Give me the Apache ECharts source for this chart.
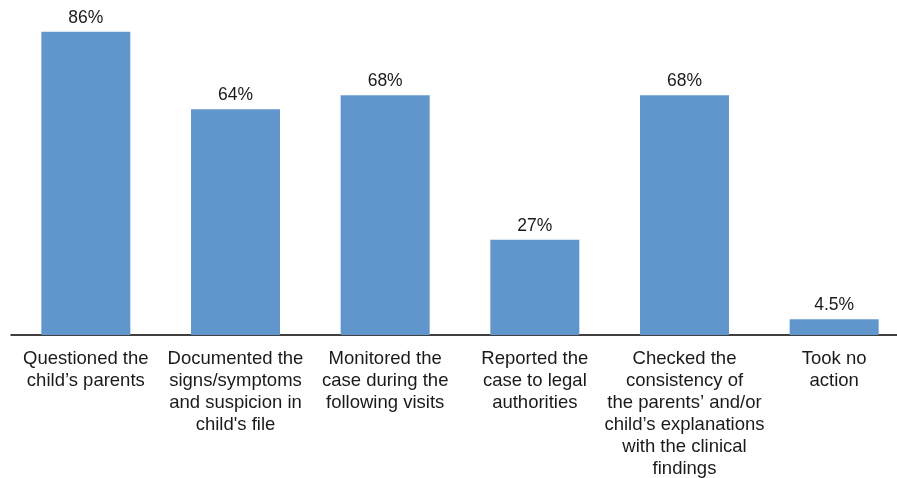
<!DOCTYPE html>
<html>
<head>
<meta charset="utf-8">
<script src="https://cdn.jsdelivr.net/npm/echarts@6/dist/echarts.min.js"></script>
<style>
html,body{margin:0;padding:0;background:#fff;overflow:hidden;}
#main{width:910px;height:478px;}
</style>
</head>
<body>
<div id="main"></div>
<script>
// categories (line breaks as in the original)
var categories = [
    "Questioned the\nchild\u2019s parents",
    "Documented the\nsigns/symptoms\nand suspicion in\nchild's file",
    "Monitored the\ncase during the\nfollowing visits",
    "Reported the\ncase to legal\nauthorities",
    "Checked the\nconsistency of\nthe parents\u2019 and/or\nchild\u2019s explanations\nwith the clinical\nfindings",
    "Took no\naction"
];
var values = [86, 64, 68, 27, 68, 4.5];

// chart div is a bit wider than the window, the axis runs off the right edge like in the original
var chart = echarts.init(document.getElementById("main"));
chart.setOption({
    animation: false,
    grid: {
        left: 11,
        right: 1,
        top: 0,
        bottom: 143,
        containLabel: false,
        outerBoundsMode: "none"
    },
    xAxis: {
        type: "category",
        data: categories,
        axisTick: {show: false},
        axisLine: {lineStyle: {color: "#000", width: 1.5}},
        axisLabel: {
            interval: 0,
            margin: 13,
            color: "#1a1a1a",
            fontFamily: "Liberation Sans",
            fontSize: 18.5,
            lineHeight: 22
        }
    },
    yAxis: {
        type: "value",
        min: 0,
        max: 95,
        show: false,
        splitLine: {show: false}
    },
    series: [{
        type: "bar",
        data: values,
        barWidth: 89,
        itemStyle: {color: "#6096CB"},
        label: {
            show: true,
            position: "top",
            distance: 5,
            formatter: "{c}%",
            color: "#1a1a1a",
            fontFamily: "Liberation Sans",
            fontSize: 17.5
        }
    }]
});
</script>
</body>
</html>
